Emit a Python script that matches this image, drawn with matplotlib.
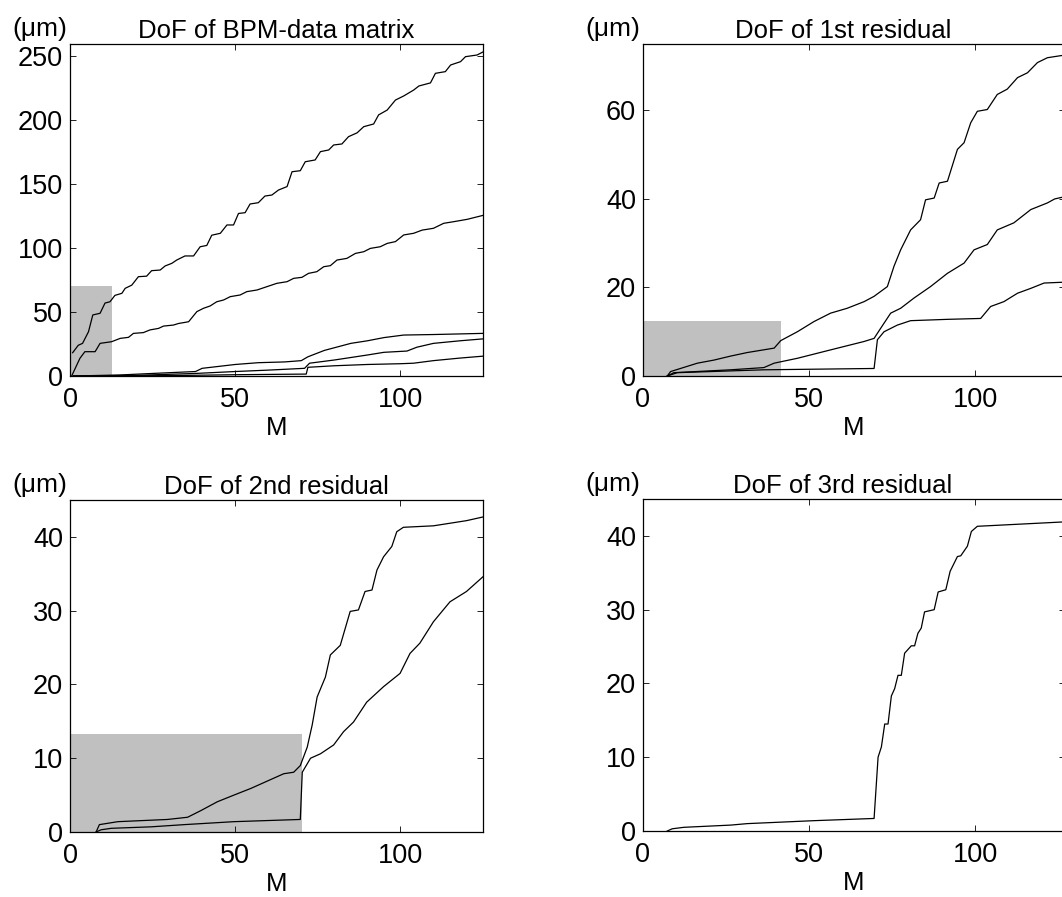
import numpy as np
import matplotlib
matplotlib.use('Agg')
import matplotlib.pyplot as plt

plt.rcParams['font.family'] = ['Liberation Sans', 'DejaVu Sans']

# ---- pannello 1: DoF of BPM-data matrix
p1_a_m = [0.8, 2.5, 3.8, 5.6, 6.9, 9.1, 10.6, 12.1, 13.6, 15.7, 16.7, 18.7, 20.7, 23.2, 24.7, 27.3,
          28.8, 30.8, 32.3, 34.8, 37.4, 39.4, 41.4, 42.9, 45.5, 47.5, 49.5, 51, 53, 54.5, 57, 59,
          61.1, 63.1, 65.7, 67.2, 69.7, 71.2, 74.2, 75.8, 78.3, 79.8, 82.3, 84.3, 86.9, 88.9, 91.9,
          93.4, 96, 98.5, 101, 104, 105.6, 109.1, 110.6, 113.6, 115.2, 118.2, 119.7, 123.2, 125]
p1_a_v = [18.2, 24, 25.5, 34.6, 47.7, 49, 57, 58, 63, 64.6, 68.5, 71, 77.6, 78, 82.3, 82.8,
          86, 88, 90.6, 93.8, 93.8, 101, 102, 110, 111.5, 118, 118, 127, 127.6, 134.4, 135.4, 140.6,
          141.4, 145.3, 148, 159.6, 160.4, 167.4, 168.8, 175.3, 176.6, 180.5, 181.3, 187, 190, 194.8, 196.9,
          204, 207.8, 215.6, 218.8, 223.4, 226.6, 229, 236.5, 237.8, 243, 245.6, 249.5, 250.8, 253.2]
p1_b_m = [0.5, 3, 4.5, 7.6, 9.1, 12.6, 15.2, 17.7, 19.2, 22.2, 24.2, 26.8, 28.3, 31.3, 32.8, 35.9,
          38.4, 40.4, 42.4, 44.4, 46.5, 48.5, 51.5, 53.5, 56.6, 59.6, 62.6, 65.7, 67.7, 70.2, 72.2,
          74.7, 76.8, 78.8, 80.8, 83.8, 86.4, 88.9, 90.9, 93.9, 96, 98.5, 101, 104, 106.6, 110,
          113.1, 116.2, 120.2, 125]
p1_b_v = [0, 13.8, 19, 19, 25.5, 26.8, 29.4, 30.2, 33.3, 33.9, 36, 37.2, 39, 39.8, 41, 42.4,
          50.3, 52.9, 54.7, 58, 59.4, 62, 63.3, 65.9, 67.2, 69.8, 72.4, 73.7, 76.3, 77.1, 80.2,
          81.5, 85.4, 86.2, 90.6, 91.9, 95.8, 97.1, 99.7, 101, 103.6, 105, 110.2, 111.5, 114, 115.4,
          119.3, 120.6, 122.4, 125.5]
p1_c_m = [1, 15, 25, 38, 40, 45, 50, 57, 65, 70, 72, 77, 85, 90, 95, 101, 110, 125]
p1_c_v = [0, 0.8, 2, 3.5, 6, 7.5, 9, 10.4, 11, 12, 15, 20, 25.5, 27.5, 30, 32, 32.4, 33.3]
p1_d_m = [1, 20, 38, 50, 60, 71, 72.5, 80, 90, 95, 102, 105, 110, 118, 125]
p1_d_v = [0, 0.5, 2.0, 3.5, 4.6, 6, 10, 12.5, 16.4, 18.5, 19.5, 22.5, 25.5, 27.5, 29]
p1_e_m = [1, 30, 50, 71.5, 72, 80, 90, 100, 104, 110, 118, 125]
p1_e_v = [0, 0.3, 1, 1.5, 6.8, 8, 9, 9.6, 10, 12, 14, 15.5]

# ---- pannello 2: DoF of 1st residual
p2_a_m = [7.3, 8.3, 16.4, 21.4, 26.4, 31.4, 39.5, 41.5, 46.5, 51.5, 56.5, 61.5, 66.6, 69.6, 73.6, 75.6,
          77.6, 80.6, 83.6, 85.1, 87.7, 89.2, 91.7, 94.7, 96.7, 98.7, 100.7, 103.7, 106.7, 109.7, 112.8,
          115.8, 118.8, 121.8, 127]
p2_a_v = [0, 1, 2.9, 3.6, 4.5, 5.3, 6.3, 8, 10, 12.3, 14.2, 15.3, 16.8, 18, 20.2, 24.8,
          28.5, 33, 35.3, 39.8, 40.2, 43.6, 44, 51.2, 52.7, 57.2, 59.8, 60.2, 63.6, 64.8, 67.4,
          68.5, 70.8, 71.9, 72.5]
p2_b_m = [7.3, 9.3, 26.4, 36.4, 39.5, 46.5, 56.5, 66.6, 69.6, 71.6, 74.6, 77.6, 81.6, 86.6, 91.7, 96.7,
          99.7, 103.7, 106.7, 111.7, 116.8, 121.8, 124, 127]
p2_b_v = [0, 0.75, 1.4, 1.9, 2.9, 4, 5.9, 7.8, 8.5, 10.8, 14.2, 15.3, 17.6, 20.2, 23.2, 25.5,
          28.5, 29.7, 33, 34.6, 37.6, 39.1, 40, 40.5]
p2_c_m = [7.3, 10.3, 36.4, 69.6, 70.6, 72.6, 76.6, 80.6, 91.7, 101.7, 104.7, 108.7, 112.8, 116.8, 120.8, 127]
p2_c_v = [0, 0.75, 1.4, 1.7, 8.2, 10, 11.5, 12.5, 12.8, 13, 15.7, 16.8, 18.7, 19.8, 21, 21.2]

# ---- pannello 3: DoF of 2nd residual
p3_a_m = [7.9, 8.9, 14.5, 29.5, 35.6, 39.6, 44.6, 49.6, 54.7, 59.7, 64.7, 67.7, 69.7, 71.8, 73.3, 74.8,
          77.3, 78.8, 81.8, 84.8, 87.3, 89.3, 91.4, 92.9, 94.9, 97.4, 98.9, 100.9, 110, 120, 125]
p3_a_v = [0, 1.0, 1.4, 1.7, 2.0, 2.9, 4.1, 5.0, 5.9, 6.9, 7.9, 8.1, 9.0, 11.5, 14.5, 18.3,
          21, 24, 25.3, 29.9, 30.1, 32.6, 32.8, 35.5, 37.3, 38.7, 40.7, 41.3, 41.5, 42.2, 42.7]
p3_b_m = [7.9, 9.4, 12.5, 24.5, 34.6, 49.6, 69.7, 70.3, 72.8, 75.8, 79.8, 82.8, 85.8, 89.8, 94.9, 99.9,
          102.9, 105.9, 110, 115, 120, 125]
p3_b_v = [0, 0.3, 0.5, 0.7, 1.0, 1.4, 1.7, 8.1, 10, 10.6, 11.8, 13.6, 14.9, 17.6, 19.7, 21.5,
          24.2, 25.6, 28.5, 31.2, 32.6, 34.6]

# ---- pannello 4: DoF of 3rd residual
p4_a_m = [7.3, 8.8, 12.3, 26.4, 31.4, 51.5, 69.6, 70.8, 71.8, 72.8, 73.8, 74.8, 75.8, 76.8, 77.8, 78.8,
          80.8, 81.8, 82.8, 83.8, 84.8, 87.7, 88.9, 91.2, 92.5, 94.7, 95.7, 97.7, 98.9, 100.7, 127]
p4_a_v = [0, 0.3, 0.5, 0.8, 1.0, 1.4, 1.7, 10, 11.4, 14.5, 14.5, 18.3, 19.3, 21.1, 21.1, 24.1,
          25.1, 25.1, 26.8, 27.5, 29.7, 30, 32.4, 32.7, 35.2, 37.2, 37.3, 38.6, 40.6, 41.3, 41.9]

titoli = ['DoF of BPM-data matrix', 'DoF of 1st residual', 'DoF of 2nd residual', 'DoF of 3rd residual']
box_m = [12.6, 41.7, 70.3, 0]      # larghezza zona grigia
box_h = [70.3, 12.5, 13.3, 0]      # altezza zona grigia
ylims = [259.4, 75, 45, 45]
xlims = [125, 127.1, 125, 127.1]
yticks = [[0, 50, 100, 150, 200, 250], [0, 20, 40, 60], [0, 10, 20, 30, 40], [0, 10, 20, 30, 40]]

curve = [
    [(p1_a_m, p1_a_v), (p1_b_m, p1_b_v), (p1_c_m, p1_c_v), (p1_d_m, p1_d_v), (p1_e_m, p1_e_v)],
    [(p2_a_m, p2_a_v), (p2_b_m, p2_b_v), (p2_c_m, p2_c_v)],
    [(p3_a_m, p3_a_v), (p3_b_m, p3_b_v)],
    [(p4_a_m, p4_a_v)],
]

W, H = 1062, 897
# posizione assi in pixel: sinistra, alto, destra, basso
pix = [[70, 44, 483, 376], [643, 44, 1065, 376], [70, 500, 483, 832], [643, 499, 1065, 831]]

fig = plt.figure(figsize=(W / 100, H / 100), dpi=100)
for i in range(4):
    l, t, r, b = pix[i]
    ax = fig.add_axes([l / W, 1 - b / H, (r - l) / W, (b - t) / H])
    if box_m[i] > 0:
        ax.fill_between([0, box_m[i]], 0, box_h[i], color='#c0c0c0', lw=0, zorder=1)
    for m, v in curve[i]:
        ax.plot(m, v, color='black', lw=0.9, zorder=3)
    ax.set_xlim(0, xlims[i])
    ax.set_ylim(0, ylims[i])
    ax.set_xticks([0, 50, 100])
    ax.set_yticks(yticks[i])
    ax.tick_params(direction='in', length=4, width=0.6, top=True, right=True, labelsize=19.5)
    ax.tick_params(axis='x', pad=8)
    ax.tick_params(axis='y', pad=5)
    for s in ax.spines.values():
        s.set_linewidth(0.9)
    ax.set_xlabel('M', fontsize=18.5, labelpad=2)
    tx = ((l + r) / 2 if i % 2 == 0 else 843)
    ax.set_title(titoli[i], fontsize=18.5, pad=4.5, x=(tx - l) / (r - l))
    ax.annotate('(\u03bcm)', xy=(0, 1), xycoords='axes fraction', xytext=(-2, 6),
                textcoords='offset points', ha='right', va='baseline', fontsize=19)

fig.savefig('out.png', dpi=100)
